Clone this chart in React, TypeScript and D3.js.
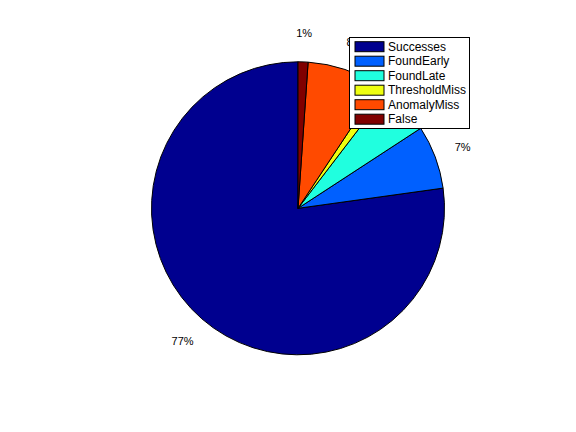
import React from "react";
import * as d3 from "d3";

const categories = ["Successes", "FoundEarly", "FoundLate", "ThresholdMiss", "AnomalyMiss", "False"];
const values = [77.2, 7.0, 5.4, 1.1, 8.2, 1.1];
const colors = ["#00008f", "#0060ff", "#20ffdf", "#efff10", "#ff4a00", "#800000"];

const W = 576;
const H = 432;
const cx = 298;
const cy = 208.3;
const R = 146.5;
const font = "'Liberation Sans', Arial, Helvetica, sans-serif";

export default function App() {
  const total = d3.sum(values);
  // MATLAB-style: start at 12 o'clock, go counter-clockwise
  const pie = d3
    .pie<number>()
    .sort(null)
    .startAngle(0)
    .endAngle(-2 * Math.PI)(values);
  const arc = d3.arc<d3.PieArcDatum<number>>().innerRadius(0).outerRadius(R);

  const legend = { x: 349.5, y: 37.5, w: 120, h: 91, row: 14.5 };

  return (
    <svg
      width={W}
      height={H}
      style={{ position: "absolute", left: 0, top: 0, background: "#fff" }}
      fontFamily={font}
    >
      <rect width={W} height={H} fill="#fff" />
      <g transform={`translate(${cx},${cy})`}>
        {pie.map((d, i) => (
          <path key={i} d={arc(d) ?? ""} fill={colors[i]} stroke="#000" strokeWidth={1} />
        ))}
        {pie.map((d, i) => {
          const mid = (d.startAngle + d.endAngle) / 2;
          const x = 1.2 * R * Math.sin(mid);
          const y = -1.2 * R * Math.cos(mid);
          return (
            <text
              key={i}
              x={x}
              y={y}
              textAnchor="middle"
              dominantBaseline="central"
              fontSize={11}
              fill="#000"
            >
              {Math.round((values[i] / total) * 100)}%
            </text>
          );
        })}
      </g>

      {/* Legend (drawn on top, hides the labels behind it like the original) */}
      <g transform={`translate(${legend.x},${legend.y})`}>
        <rect width={legend.w} height={legend.h} fill="#fff" stroke="#000" strokeWidth={1} />
        {categories.map((c, i) => {
          const yc = 9.2 + i * legend.row;
          return (
            <g key={c}>
              <rect x={5.5} y={yc - 5} width={29} height={10} fill={colors[i]} stroke="#000" strokeWidth={1} />
              <text x={38.5} y={yc} dominantBaseline="central" fontSize={12} fill="#000">
                {c}
              </text>
            </g>
          );
        })}
      </g>
    </svg>
  );
}
